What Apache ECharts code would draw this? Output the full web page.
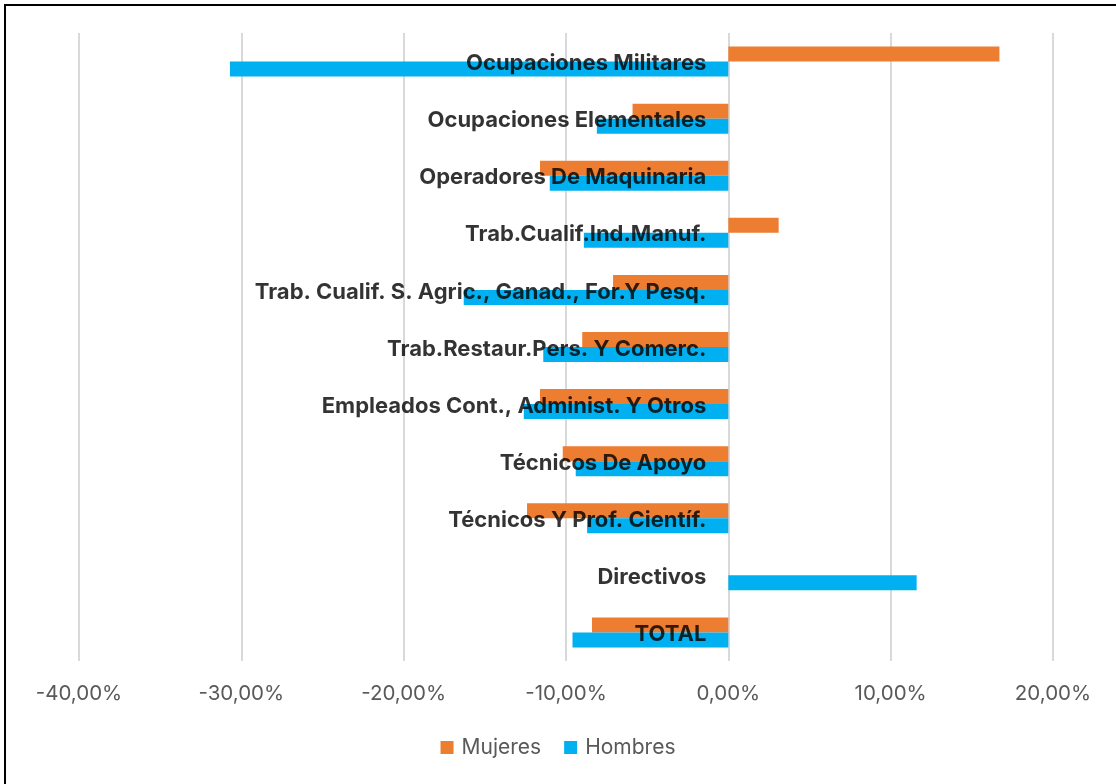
<!DOCTYPE html>
<html><head><meta charset="utf-8">
<script src="https://cdn.jsdelivr.net/npm/echarts@6/dist/echarts.min.js"></script>
<style>html,body{margin:0;padding:0;background:#fff}#c{width:1116px;height:784px}</style>
</head><body><div id="c"></div>
<script>
const categories = ["TOTAL","Directivos","Técnicos Y Prof. Científ.","Técnicos De Apoyo","Empleados Cont., Administ. Y Otros","Trab.Restaur.Pers. Y Comerc.","Trab. Cualif. S. Agric., Ganad., For.Y Pesq.","Trab.Cualif.Ind.Manuf.","Operadores De Maquinaria","Ocupaciones Elementales","Ocupaciones Militares"];
const mujeres = [-8.4, null, -12.4, -10.2, -11.6, -9.0, -7.1, 3.1, -11.6, -5.9, 16.7];
const hombres = [-9.6, 11.6, -8.7, -9.4, -12.6, -11.4, -16.3, -8.9, -11.0, -8.1, -30.7];
const xTicks = {min: -40, max: 20, interval: 10};

const chart = echarts.init(document.getElementById('c'));
const fmt = v => (v.toFixed(2).replace('.', ',')) + '%';
chart.setOption({
  animation: false,
  graphic: [{type:'rect', shape:{x:5,y:5,width:1200,height:900}, style:{fill:'none', stroke:'#000', lineWidth:2}}],
  grid: {left: 79, right: 63, top: 33, bottom: 123, containLabel: false, outerBoundsMode: 'none'},
  legend: {bottom: 21, left: 'center', itemWidth: 13, itemHeight: 13, itemGap: 23, icon: 'rect',
    textStyle: {color: '#595959', fontSize: 21, fontFamily: 'Inter', padding: [0,0,0,3]},
    data: ['Mujeres','Hombres']},
  xAxis: {type: 'value', min: xTicks.min, max: xTicks.max, interval: xTicks.interval,
    axisLine: {show: false}, axisTick: {show: false},
    splitLine: {lineStyle: {color: '#d9d9d9', width: 2}},
    axisLabel: {formatter: fmt, color: '#595959', fontSize: 20.5, fontFamily: 'Inter', margin: 22}},
  yAxis: {type: 'category', data: categories,
    axisLine: {show: false}, axisTick: {show: false}, axisLabel: {show: false}},
  series: [
    {name: 'Mujeres', type: 'bar', data: mujeres, barWidth: 15, barGap: '0%', itemStyle: {color: '#ED7D31'}},
    {name: 'Hombres', type: 'bar', data: hombres, barWidth: 15, barGap: '0%', itemStyle: {color: '#00B0F0'}},
    {name: 'labels', type: 'scatter', symbolSize: 0, z: 10, silent: true,
      data: categories.map(c => [0, c]),
      label: {show: true, position: 'left', distance: 22, offset: [0, 2], formatter: p => p.value[1],
        color: '#000', fontWeight: 'bold', fontSize: 22, fontFamily: 'Inter'}}
  ]
});
</script></body></html>
